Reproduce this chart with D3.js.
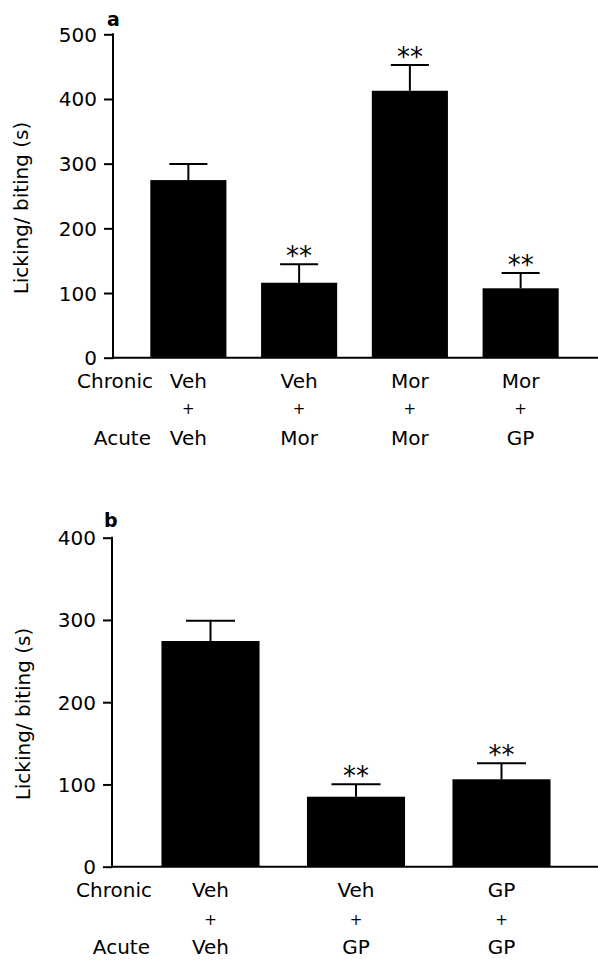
<!DOCTYPE html>
<html><head><meta charset="utf-8">
<script src="https://cdn.jsdelivr.net/npm/d3@7"></script>
<style>
body{margin:0;background:#fff}
svg{display:block}
text{font-family:"DejaVu Sans",sans-serif;fill:#000}
</style>
</head><body>
<svg id="c" width="598" height="960"></svg>
<script>
// ---------- data ----------
const chronicA = ["Veh", "Veh", "Mor", "Mor"];
const acuteA   = ["Veh", "Mor", "Mor", "GP"];
const meanA    = [274.6, 115.9, 412.7, 107.3];
const semA     = [24.8, 28.5, 39.7, 23.7];
const sigA     = ["", "**", "**", "**"];
const ticksA   = [0, 100, 200, 300, 400, 500];

const chronicB = ["Veh", "Veh", "GP"];
const acuteB   = ["Veh", "GP", "GP"];
const meanB    = [274.4, 85.1, 106.3];
const semB     = [24.7, 15.1, 19.4];
const sigB     = ["", "**", "**"];
const ticksB   = [0, 100, 200, 300, 400];

const yTitle = "Licking/ biting (s)";
const rowNames = ["Chronic", "Acute"];

const svg = d3.select("#c");

function panel(cfg) {
  const n = cfg.mean.length;
  const g = svg.append("g");
  const x = d3.scaleBand().domain(d3.range(n))
    .range(cfg.xr).paddingInner(cfg.pi).paddingOuter(cfg.po);
  const yMax = d3.max(cfg.ticks);
  const y = d3.scaleLinear().domain([0, yMax]).range(cfg.yr);

  // y axis ticks + labels
  const ax = g.append("g").attr("transform", `translate(${cfg.axisX},0)`)
    .call(d3.axisLeft(y).tickValues(cfg.ticks).tickSize(9).tickPadding(7).tickSizeOuter(0));
  ax.select(".domain").remove();
  ax.attr("font-family", null).attr("font-size", null);
  ax.selectAll("line").attr("stroke", "#000").attr("stroke-width", 2);
  ax.selectAll("text").attr("font-size", 20).attr("dy", "0.35em");

  // axis lines
  g.append("line").attr("x1", cfg.axisX).attr("x2", cfg.axisX)
    .attr("y1", y(yMax) - 1).attr("y2", y(0) + 1)
    .attr("stroke", "#000").attr("stroke-width", 2);
  g.append("line").attr("x1", cfg.axisX).attr("x2", 598)
    .attr("y1", y(0)).attr("y2", y(0))
    .attr("stroke", "#000").attr("stroke-width", 2);

  const idx = d3.range(n);
  // bars
  g.selectAll("rect.bar").data(idx).join("rect").attr("class", "bar")
    .attr("x", i => x(i)).attr("width", x.bandwidth())
    .attr("y", i => y(cfg.mean[i]))
    .attr("height", i => y(0) - y(cfg.mean[i]))
    .attr("fill", "#000");
  // error bars (upper only)
  const cx = i => x(i) + x.bandwidth() / 2;
  const capW = x.bandwidth() * 0.5;
  g.selectAll("line.err").data(idx).join("line").attr("class", "err")
    .attr("x1", cx).attr("x2", cx)
    .attr("y1", i => y(cfg.mean[i])).attr("y2", i => y(cfg.mean[i] + cfg.sem[i]))
    .attr("stroke", "#000").attr("stroke-width", 2);
  g.selectAll("line.cap").data(idx).join("line").attr("class", "cap")
    .attr("x1", i => cx(i) - capW / 2).attr("x2", i => cx(i) + capW / 2)
    .attr("y1", i => y(cfg.mean[i] + cfg.sem[i])).attr("y2", i => y(cfg.mean[i] + cfg.sem[i]))
    .attr("stroke", "#000").attr("stroke-width", 2);
  // significance stars
  g.selectAll("text.sig").data(idx).join("text").attr("class", "sig")
    .attr("x", cx).attr("y", i => y(cfg.mean[i] + cfg.sem[i]) + 1)
    .attr("text-anchor", "middle").attr("font-size", 26)
    .text(i => cfg.sig[i]);

  // category labels
  g.selectAll("text.chr").data(idx).join("text").attr("class", "chr")
    .attr("x", cx).attr("y", cfg.rows[0]).attr("text-anchor", "middle")
    .attr("font-size", 20).text(i => cfg.chronic[i]);
  g.selectAll("text.plus").data(idx).join("text").attr("class", "plus")
    .attr("x", cx).attr("y", cfg.rows[1]).attr("text-anchor", "middle")
    .attr("font-size", 15).text("+");
  g.selectAll("text.acu").data(idx).join("text").attr("class", "acu")
    .attr("x", cx).attr("y", cfg.rows[2]).attr("text-anchor", "middle")
    .attr("font-size", 20).text(i => cfg.acute[i]);
  g.append("text").attr("x", cfg.rowLabelX).attr("y", cfg.rows[0])
    .attr("text-anchor", "end").attr("font-size", 20).text(rowNames[0]);
  g.append("text").attr("x", cfg.rowLabelX - 2).attr("y", cfg.rows[2])
    .attr("text-anchor", "end").attr("font-size", 20).text(rowNames[1]);

  // y title
  g.append("text")
    .attr("transform", `translate(${cfg.titleX},${cfg.titleY}) rotate(-90)`)
    .attr("text-anchor", "middle").attr("font-size", 20).text(yTitle);

  // panel letter
  g.append("text").attr("x", cfg.letterX).attr("y", cfg.letterY)
    .attr("font-size", 19).attr("font-weight", "bold").text(cfg.letter);
}

panel({
  mean: meanA, sem: semA, sig: sigA, chronic: chronicA, acute: acuteA, ticks: ticksA,
  xr: [113, 596], pi: 0.313, po: 0.337, yr: [357.7, 34.3], axisX: 113,
  rows: [387.5, 413.8, 444.6], rowLabelX: 153,
  titleX: 27.5, titleY: 208, letter: "a", letterX: 107, letterY: 26
});
panel({
  mean: meanB, sem: semB, sig: sigB, chronic: chronicB, acute: acuteB, ticks: ticksB,
  xr: [112, 600], pi: 0.326, po: 0.34, yr: [866.7, 537.7], axisX: 112,
  rows: [897, 925, 954], rowLabelX: 152,
  titleX: 29.5, titleY: 714, letter: "b", letterX: 104, letterY: 527
});
</script>
</body></html>
